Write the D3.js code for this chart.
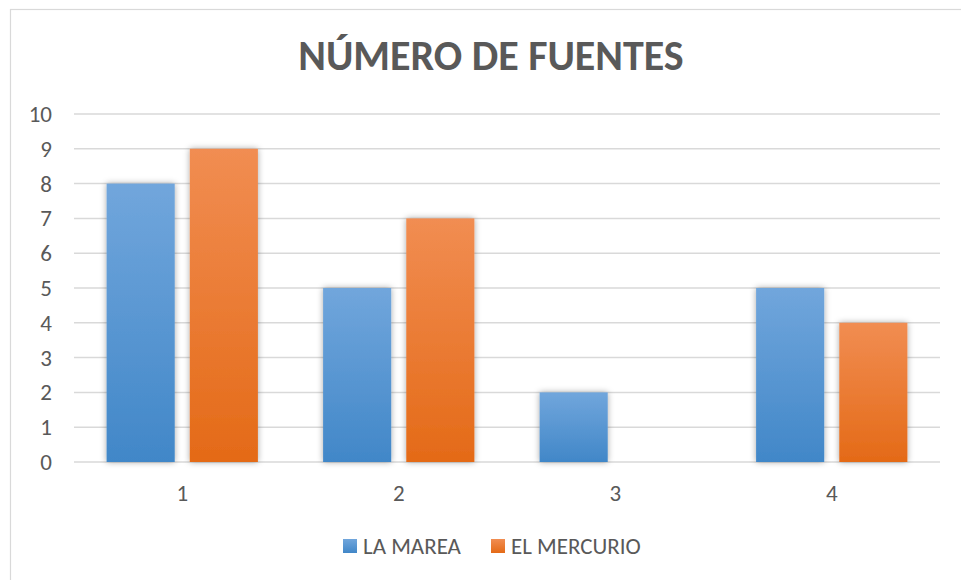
<!DOCTYPE html>
<html><head><meta charset="utf-8">
<script src="https://cdn.jsdelivr.net/npm/d3@7"></script>
<style>body{margin:0;background:#fff;}svg{display:block;}</style>
</head><body>
<svg id="c" width="961" height="580"></svg>
<script>
const categories = ["1","2","3","4"];
const seriesNames = ["LA MAREA","EL MERCURIO"];
const laMarea = [8,5,2,5];
const elMercurio = [9,7,0,4];
const yTicks = [0,1,2,3,4,5,6,7,8,9,10];
const title = "NÚMERO DE FUENTES";

const svg = d3.select("#c");
const font = "Carlito, 'Open Sans', 'Liberation Sans', sans-serif";
const textColor = "#595959";
const m = {left:74, right:940, top:114, bottom:462};

const defs = svg.append("defs");
const grads = [["gBlue","#71a6dc","#4187c8"],["gOrange","#f18d52","#e46a17"]];
grads.forEach(([id,a,b])=>{
  const g = defs.append("linearGradient").attr("id",id).attr("x1",0).attr("y1",0).attr("x2",0).attr("y2",1);
  g.append("stop").attr("offset","0%").attr("stop-color",a);
  g.append("stop").attr("offset","100%").attr("stop-color",b);
});
const f = defs.append("filter").attr("id","sh").attr("x","-20%").attr("y","-20%").attr("width","140%").attr("height","140%");
f.append("feDropShadow").attr("dx",0).attr("dy",0).attr("stdDeviation",3).attr("flood-color","#000").attr("flood-opacity",0.35);

// border
svg.append("rect").attr("x",10.5).attr("y",9.5).attr("width",970).attr("height",600)
  .attr("fill","none").attr("stroke","#d9d9d9").attr("stroke-width",1.2);

const x = d3.scaleBand().domain(categories).range([m.left,m.right]).paddingInner(0).paddingOuter(0);
const y = d3.scaleLinear().domain([0,10]).range([m.bottom,m.top]);

// grid
svg.append("g").selectAll("line").data(yTicks).join("line")
  .attr("x1",m.left).attr("x2",m.right)
  .attr("y1",d=>y(d)).attr("y2",d=>y(d))
  .attr("stroke","#d9d9d9").attr("stroke-width",1.5);

// y axis labels
const yAxis = d3.axisLeft(y).tickValues(yTicks).tickSize(0).tickPadding(0);
const ya = svg.append("g").attr("transform",`translate(${m.left-22},0)`).call(yAxis);
ya.select(".domain").remove();
ya.selectAll("text").attr("font-family",font).attr("font-size",23).attr("fill",textColor).attr("dy","0.33em");

// x axis labels
const xAxis = d3.axisBottom(x).tickSize(0).tickPadding(0);
const xa = svg.append("g").attr("transform",`translate(0,${m.bottom+23})`).call(xAxis);
xa.select(".domain").remove();
xa.selectAll("text").attr("font-family",font).attr("font-size",23).attr("fill",textColor).attr("dy","0.71em");

// bars
const inner = d3.scaleBand().domain(seriesNames).range([0,x.bandwidth()]).paddingInner(0.181).paddingOuter(0.392);
const series = [laMarea, elMercurio];
series.forEach((vals,si)=>{
  svg.append("g").selectAll("rect").data(vals.map((v,i)=>({v,c:categories[i]})).filter(d=>d.v>0)).join("rect")
    .attr("x",d=>x(d.c)+inner(seriesNames[si]))
    .attr("width",inner.bandwidth())
    .attr("y",d=>y(d.v))
    .attr("height",d=>y(0)-y(d.v))
    .attr("fill",`url(#${grads[si][0]})`)
    .attr("filter","url(#sh)");
});

// title
svg.append("text").attr("x",491).attr("y",70).attr("text-anchor","middle")
  .attr("font-family",font).attr("font-weight","bold").attr("font-size",42).attr("fill",textColor).text(title);

// legend
const legX = [343, 491];
seriesNames.forEach((n,i)=>{
  const g = svg.append("g").attr("transform",`translate(${legX[i]},539)`);
  g.append("rect").attr("width",14).attr("height",14).attr("fill",`url(#${grads[i][0]})`);
  g.append("text").attr("x",20).attr("y",7).attr("dy","0.35em").attr("font-family",font).attr("font-size",23).attr("fill",textColor).text(n);
});
</script>
</body></html>
